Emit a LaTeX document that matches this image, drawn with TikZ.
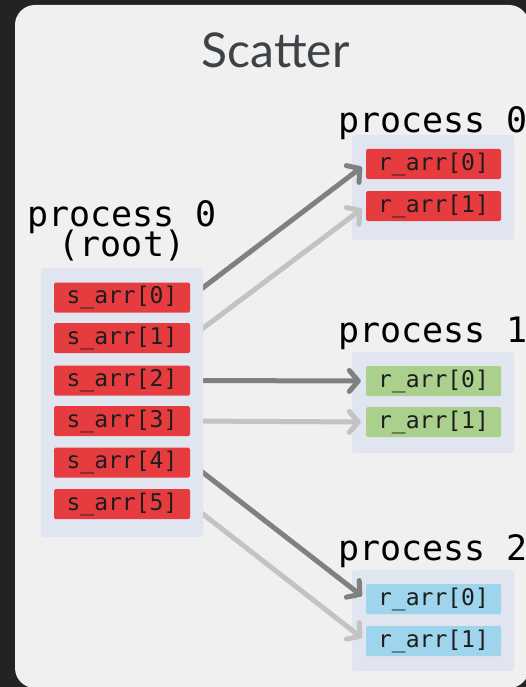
\documentclass[tikz,border=0pt]{standalone}
\usepackage{fontspec}
\setmainfont{Lato}
\setmonofont{DejaVu Sans Mono}
\usetikzlibrary{arrows.meta}

\definecolor{bgdark}{HTML}{232323}
\definecolor{panel}{HTML}{F0F0F0}
\definecolor{titlegray}{HTML}{3D4247}
\definecolor{contfill}{HTML}{E1E5F0}
\definecolor{redbox}{HTML}{E63C40}
\definecolor{greenbox}{HTML}{ABCF8C}
\definecolor{bluebox}{HTML}{9ED4EC}
\definecolor{boxtext}{HTML}{1D1D1D}
\definecolor{arrdark}{HTML}{808080}
\definecolor{arrlight}{HTML}{C3C3C3}

\begin{document}
\begin{tikzpicture}[x=1pt,y=-1pt,
  cell/.style={rounded corners=1.5pt, minimum height=30pt, inner sep=0pt,
    font=\ttfamily\fontsize{23}{23}\selectfont, text=boxtext},
  sbox/.style={cell, fill=redbox, minimum width=136pt},
  rbox/.style={cell, minimum width=135pt},
  cont/.style={fill=contfill, rounded corners=3pt, inner sep=0pt},
  lbl/.style={font=\ttfamily\fontsize{35}{35}\selectfont, inner sep=0pt, text=black},
  send/.style={line width=5pt, shorten >=5pt,
    -{Straight Barb[length=9pt,width=21pt,round]}},
  darkarrow/.style={send, draw=arrdark},
  lightarrow/.style={send, draw=arrlight}]

  % canvas and panel
  \useasboundingbox (0,0) rectangle (526,687);
  \fill[bgdark] (0,0) rectangle (526,687);
  \fill[panel, rounded corners=20pt] (15,5) rectangle (529,688);

  \node[font=\fontsize{48}{48}\selectfont, text=titlegray, anchor=base, inner sep=0pt]
    (title) at (275.5,68) {Scatter};

  % receiving processes: containers
  \node[cont, minimum width=162pt, minimum height=105pt] (P0) at (433,187.5) {};
  \node[cont, minimum width=162pt, minimum height=101pt] (P1) at (433,402.5) {};
  \node[cont, minimum width=162pt, minimum height=101pt] (P2) at (433,620.5) {};

  % receive buffers
  \node[rbox, fill=redbox]   (a0) at (433.5,164) {r\_arr[0]};
  \node[rbox, fill=redbox]   (a1) at (433.5,206) {r\_arr[1]};
  \node[rbox, fill=greenbox] (b0) at (433.5,381) {r\_arr[0]};
  \node[rbox, fill=greenbox] (b1) at (433.5,422) {r\_arr[1]};
  \node[rbox, fill=bluebox]  (c0) at (433.5,599) {r\_arr[0]};
  \node[rbox, fill=bluebox]  (c1) at (433.5,641) {r\_arr[1]};

  % send buffer positions (boxes drawn later, over the arrow tails)
  \coordinate (s0) at (190,297.5);
  \coordinate (s1) at (190,338);
  \coordinate (s2) at (190,380.5);
  \coordinate (s3) at (190,421);
  \coordinate (s4) at (190,462.5);
  \coordinate (s5) at (190,504);

  % scatter arrows
  \draw[darkarrow]  (s0) -- (a0.west);
  \draw[lightarrow] (s1) -- (a1.west);
  \draw[darkarrow]  (s2) -- (b0.west);
  \draw[lightarrow] (s3) -- (b1.west);
  \draw[darkarrow]  (s4) -- (c0.west);
  \draw[lightarrow] (s5) -- (c1.west);

  % root process
  \node[cont, minimum width=162pt, minimum height=269pt] (R) at (122,402.5) {};
  \node[sbox] (sa0) at (122,297.5) {s\_arr[0]};
  \node[sbox] (sa1) at (122,338)   {s\_arr[1]};
  \node[sbox] (sa2) at (122,380.5) {s\_arr[2]};
  \node[sbox] (sa3) at (122,421)   {s\_arr[3]};
  \node[sbox] (sa4) at (122,462.5) {s\_arr[4]};
  \node[sbox] (sa5) at (122,504)   {s\_arr[5]};

  % labels
  \node[lbl, anchor=base] (rootname) at (122,226) {process 0};
  \node[lbl, anchor=base] (rootnote) at (122,256) {(root)};
  \node[lbl, anchor=base west] (p0name) at (338,133) {process 0};
  \node[lbl, anchor=base west] (p1name) at (338,342) {process 1};
  \node[lbl, anchor=base west] (p2name) at (338,560) {process 2};
\end{tikzpicture}
\end{document}
